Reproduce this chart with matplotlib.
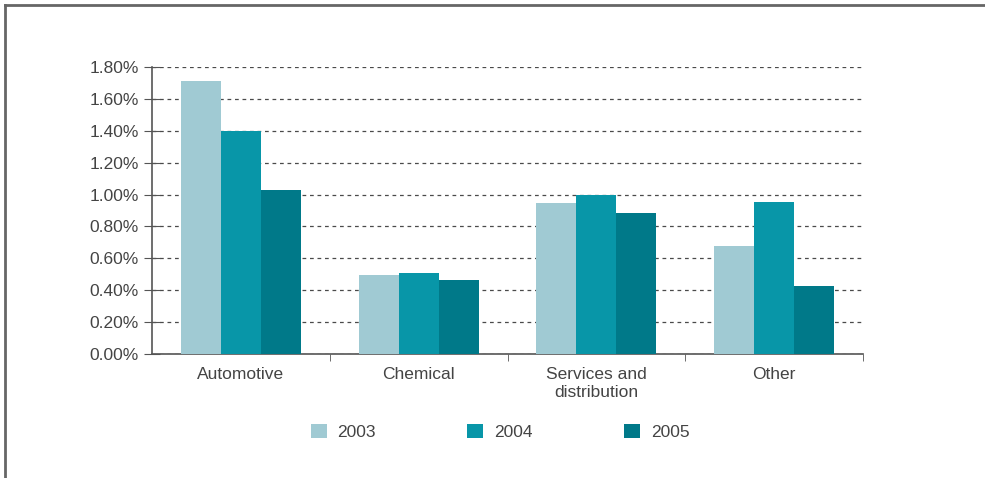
import matplotlib
matplotlib.use('Agg')
import matplotlib.pyplot as plt
from matplotlib.lines import Line2D
from matplotlib.ticker import FuncFormatter
import numpy as np

plt.rcParams['font.family'] = ['Liberation Sans', 'DejaVu Sans']

sectors = ['Automotive', 'Chemical', 'Services and\ndistribution', 'Other']
years = ['2003', '2004', '2005']
rate_2003 = [1.71, 0.495, 0.95, 0.68]
rate_2004 = [1.40, 0.51, 1.00, 0.955]
rate_2005 = [1.03, 0.465, 0.885, 0.425]
colors = ['#a0cad3', '#0896a8', '#007989']

text_col = '#444444'
axis_col = '#555555'
fs = 12.5

fig = plt.figure(figsize=(9.85, 4.78), dpi=100)
ax = fig.add_axes([152/985, 1-354/478, (863-152)/985, (354-67)/478])

x = np.arange(len(sectors))
w = 0.225
for i, (vals, yr) in enumerate(zip([rate_2003, rate_2004, rate_2005], years)):
    ax.bar(x + (i-1)*w, vals, w, color=colors[i], label=yr, zorder=3)

ax.set_xlim(-0.5, len(sectors)-0.5)
ax.set_ylim(0, 1.8)
ax.set_yticks(np.arange(0, 1.81, 0.2))
ax.yaxis.set_major_formatter(FuncFormatter(lambda v, p: '%.2f%%' % v))
ax.yaxis.grid(True, linestyle=(0, (3, 3)), color='#4a4a4a', linewidth=0.9, zorder=0)

# category labels in the middle, tick marks on the boundaries
ax.set_xticks(x)
ax.set_xticklabels(sectors, fontsize=fs, color=text_col, linespacing=1.2)
ax.tick_params(axis='x', length=0, pad=9.5)
ax.set_xticks(np.arange(0.5, len(sectors), 1), minor=True)
ax.tick_params(axis='x', which='minor', length=5, direction='out', color=axis_col)
ax.tick_params(axis='y', direction='inout', length=11, color=axis_col,
               labelsize=fs, labelcolor=text_col, pad=4)

for s in ['top', 'right']:
    ax.spines[s].set_visible(False)
for s in ['left', 'bottom']:
    ax.spines[s].set_color(axis_col)
    ax.spines[s].set_linewidth(1.2)

fig.legend(loc='center', bbox_to_anchor=(500/985, 1-432/478), ncol=3,
           frameon=False, fontsize=fs, labelcolor=text_col,
           handlelength=0.92, handleheight=0.92, handletextpad=0.6,
           columnspacing=5.3)

# outer frame
fig.add_artist(Line2D([5/985, 1], [1-5/478, 1-5/478], color='#666666', lw=2,
                      transform=fig.transFigure))
fig.add_artist(Line2D([5/985, 5/985], [0, 1-5/478], color='#666666', lw=2,
                      transform=fig.transFigure))

fig.savefig('out.png', dpi=100)
